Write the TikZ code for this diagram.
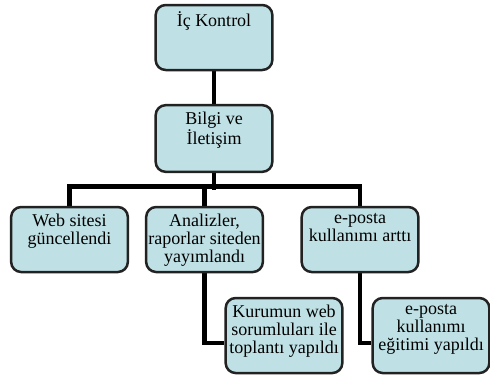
\documentclass[tikz,border=0pt]{standalone}
\usepackage{fontspec}
\setmainfont{Liberation Serif}
\usetikzlibrary{positioning,backgrounds}
\definecolor{boxblue}{HTML}{BFE1E5}
\definecolor{boxedge}{HTML}{222222}
\newcommand{\boxlines}[2][39pt]{\parbox[c][#1][t]{70pt}{\vspace*{4pt}\centering #2}}

\begin{document}
\begin{tikzpicture}[x=0.6pt,y=-0.6pt,
every node/.style={font=\fontsize{10.8}{10.8}\selectfont},
box/.style={draw=boxedge,line width=1.5pt,rounded corners=6pt,fill=boxblue,inner sep=0pt},
conn/.style={draw=black,line width=2.9pt}
]
\useasboundingbox (0,0) rectangle (490,377);

\node[box] (ic)     at (214,37.5)  {\boxlines{İç Kontrol}};
\node[box] (bilgi)  at (214,138.5) {\boxlines[40pt]{Bilgi ve\\İletişim}};

\node[box] (web)    at (69.5,239.5)  {\boxlines{Web sitesi\\güncellendi}};
\node[box] (analiz) at (204.5,239.5) {\boxlines{Analizler,\\raporlar siteden\\yayımlandı}};
\node[box] (eposta) at (360,239.5)   {\boxlines{e-posta\\kullanımı arttı}};

\node[box] (kurum)  at (284,335.5) {\boxlines[45pt]{Kurumun web\\sorumluları ile\\toplantı yapıldı}};
\node[box] (egitim) at (431,335.5) {\boxlines[45pt]{e-posta\\kullanımı\\eğitimi yapıldı}};

\begin{scope}[on background layer]
\draw[conn] (ic) -- (bilgi);
\draw[conn] (bilgi.south) -- ++(0,16.5);
\draw[conn] (web.north) -- ++(0,-19) -| (eposta.north);
\draw[conn] (analiz.north) -- ++(0,-19);
\draw[conn] (analiz.south) |- ([yshift=-4.5pt]kurum.west);
\draw[conn] (eposta.south) |- ([yshift=-4.5pt]egitim.west);
\end{scope}
\end{tikzpicture}
\end{document}
